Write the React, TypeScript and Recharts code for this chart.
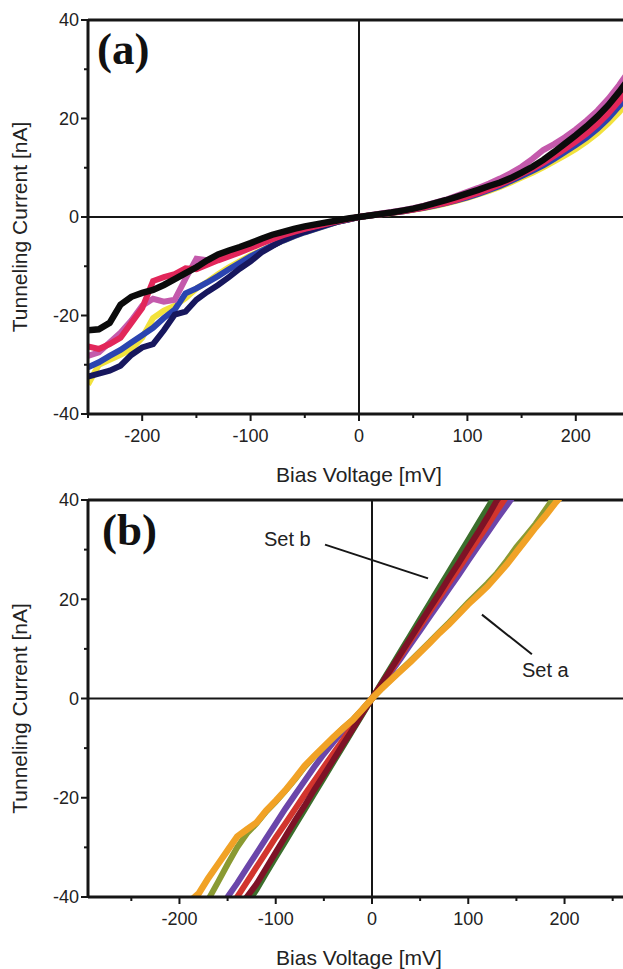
import React from "react";
import { LineChart, Line, XAxis, YAxis, ReferenceLine, ReferenceDot } from "recharts";

const FONT = "'Liberation Sans', Arial, Helvetica, sans-serif";
const SERIF = "'Liberation Serif', 'Times New Roman', serif";
const INK = "#161616";

// ---- panel (a): I-V curves, bias -250..250 mV in 10 mV steps
const voltsA = [
  -250, -240, -230, -220, -210, -200, -190, -180, -170, -160, -150, -140, -130, -120, -110, -100, -90, -80, -70, -60, -50,
  -40, -30, -20, -10, 0, 10, 20, 30, 40, 50, 60, 70, 80, 90, 100, 110, 120, 130, 140, 150, 160, 170, 180, 190, 200, 210,
  220, 230, 240, 250,
];
const blackA = [
  -23, -22.8, -21.5, -17.8, -16.2, -15.4, -14.8, -13.8, -12.6, -11.4, -10.2, -8.8, -7.6, -6.8, -6.1, -5.3, -4.4, -3.6, -3.0,
  -2.4, -1.9, -1.5, -1.1, -0.7, -0.3, 0, 0.3, 0.6, 0.9, 1.3, 1.7, 2.2, 2.8, 3.4, 4.1, 4.8, 5.5, 6.3, 7.0, 7.9, 9.0, 10.2,
  11.6, 13.2, 14.9, 16.6, 18.4, 20.4, 22.7, 25.4, 28.4,
];
const magentaA = [
  -28.2, -27.5, -25.5, -23.5, -21, -18, -16.6, -17.2, -16.8, -12.5, -8.5, -8.8, -8.4, -7.6, -6.7, -5.8, -4.9, -4.1, -3.4,
  -2.8, -2.3, -1.8, -1.3, -0.8, -0.4, 0, 0.35, 0.7, 1.0, 1.4, 1.8, 2.3, 2.9, 3.5, 4.3, 5.1, 5.9, 6.8, 7.8, 8.9, 10.2, 11.8,
  13.6, 14.8, 16.2, 17.8, 19.6, 21.6, 24.0, 26.8, 30.0,
];
const redA = [
  -26.3, -26.8, -25.8, -24.5, -21.5, -18.5, -13.0, -12.2, -11.6, -10.4, -10.6, -9.7, -8.8, -8.0, -7.2, -6.3, -5.4, -4.5,
  -3.7, -3.0, -2.4, -1.9, -1.4, -0.9, -0.4, 0, 0.3, 0.55, 0.85, 1.15, 1.5, 1.9, 2.4, 2.9, 3.5, 4.2, 4.9, 5.7, 6.6, 7.6, 8.7,
  9.8, 11.0, 12.4, 13.8, 15.3, 16.9, 18.8, 21.0, 23.6, 26.6,
];
const yellowA = [
  -34.0, -30.0, -29.0, -28.0, -26.8, -24.5, -20.5, -19.0, -18.0, -16.5, -14.5, -13.2, -11.6, -10.2, -9.0, -7.8, -6.8, -5.8,
  -4.8, -3.9, -3.1, -2.4, -1.7, -1.0, -0.5, 0, 0.3, 0.55, 0.8, 1.1, 1.45, 1.8, 2.2, 2.7, 3.3, 3.9, 4.6, 5.3, 6.1, 7.0, 8.0,
  9.0, 10.1, 11.3, 12.5, 13.8, 15.3, 17.0, 19.0, 21.3, 23.8,
];
const blueA = [
  -30.5, -29.5, -28.2, -27.0, -25.5, -24.0, -22.5, -20.5, -18.8, -15.5, -14.5, -13.3, -12.0, -10.6, -9.3, -8.0, -6.9, -5.8,
  -4.8, -3.9, -3.1, -2.4, -1.7, -1.0, -0.5, 0, 0.3, 0.55, 0.85, 1.1, 1.5, 1.85, 2.3, 2.8, 3.4, 4.0, 4.7, 5.5, 6.3, 7.3, 8.3,
  9.4, 10.5, 11.8, 13.2, 14.6, 16.1, 17.9, 20.0, 22.5, 25.3,
];
const navyA = [
  -32.4, -31.8, -31.2, -30.2, -28.0, -26.5, -25.8, -23.0, -19.8, -19.2, -16.8, -15.2, -13.8, -12.2, -10.5, -9.0, -7.2, -5.9,
  -4.7, -3.8, -3.0, -2.3, -1.6, -1.0, -0.5, 0, 0.3, 0.6, 0.9, 1.2, 1.55, 2.0, 2.6, 3.2, 3.9, 4.6, 5.3, 6.1, 6.9, 7.8, 8.8,
  10.0, 11.3, 12.8, 14.4, 16.1, 17.9, 19.9, 22.2, 24.9, 28.0,
];

// ---- panel (b): two sets, bias -190..200 mV in 10 mV steps
const voltsB = [
  -190, -180, -170, -160, -150, -140, -130, -120, -110, -100, -90, -80, -70, -60, -50, -40, -30, -20, -10, 0, 10, 20, 30, 40,
  50, 60, 70, 80, 90, 100, 110, 120, 130, 140, 150, 160, 170, 180, 190, 200,
];
const _ = null;
const orangeB = [
  -41, -39.3, -36.2, -33.4, -30.6, -27.8, -26.4, -25.0, -22.6, -20.6, -18.5, -16.1, -13.6, -11.6, -9.7, -7.8, -6.0, -4.3,
  -2.2, 0, 2.0, 3.8, 5.6, 7.4, 9.3, 11.2, 13.2, 15.0, 17.0, 19.0, 20.8, 22.6, 24.8, 27.0, 29.5, 32.0, 34.5, 36.8, 39.3, 41.5,
];
const oliveB = [
  _, _, -40.5, -37, -33.4, -30, -27.2, -25.2, -22.8, -20.8, -18.6, -16.3, -13.8, -11.7, -9.8, -7.9, -6.0, -4.3, -2.2, 0, 2.0,
  3.9, 5.7, 7.6, 9.5, 11.4, 13.4, 15.3, 17.3, 19.4, 21.3, 23.2, 25.3, 27.8, 30.5, 32.8, 35.2, 38.0, 40.8, _,
];
const maroonB = [
  _, _, _, _, _, -43, -40, -37.4, -34.2, -31.0, -27.8, -24.6, -21.6, -18.4, -15.4, -12.3, -9.2, -6.2, -3.0, 0, 3.0, 6.0, 9.1,
  12.1, 15.2, 18.2, 21.2, 24.3, 27.3, 30.4, 33.4, 36.6, 40.0, 43, _, _, _, _, _, _,
];
const purpleB = [
  _, _, _, -42.5, -40, -37.2, -34.2, -31.2, -28.2, -25.2, -22.2, -19.4, -16.6, -13.8, -11.2, -8.8, -6.5, -4.4, -2.2, 0, 2.7,
  5.4, 8.1, 10.9, 13.7, 16.5, 19.3, 22.1, 24.9, 27.8, 30.6, 33.4, 36.2, 38.9, 41.6, _, _, _, _, _,
];
const redB = [
  _, _, _, _, -43, -40, -37, -34, -31, -28, -25.2, -22.3, -19.4, -16.6, -13.8, -11.0, -8.3, -5.5, -2.8, 0, 2.9, 5.8, 8.7,
  11.7, 14.6, 17.5, 20.4, 23.3, 26.2, 29.1, 32.0, 34.9, 37.9, 40.8, _, _, _, _, _, _,
];
const greenB = [
  _, _, _, _, _, _, -41.5, -38.5, -35.2, -32.0, -28.8, -25.6, -22.4, -19.2, -16.0, -12.8, -9.6, -6.4, -3.2, 0, 3.2, 6.4, 9.6,
  12.8, 16.0, 19.2, 22.4, 25.6, 28.8, 32.0, 35.2, 38.4, 41.6, _, _, _, _, _, _, _,
];

const yTicks = [-40, -30, -20, -10, 0, 10, 20, 30, 40];
const yMajor = [-40, -20, 0, 20, 40];
const xTicks = [-250, -200, -150, -100, -50, 0, 50, 100, 150, 200, 250];
const xMajor = [-200, -100, 0, 100, 200];

const rowsA = voltsA.map((v, k) => ({
  v,
  black: blackA[k],
  magenta: magentaA[k],
  red: redA[k],
  yellow: yellowA[k],
  blue: blueA[k],
  navy: navyA[k],
}));

const rowsB = voltsB.map((v, k) => ({
  v,
  orange: orangeB[k],
  olive: oliveB[k],
  maroon: maroonB[k],
  purple: purpleB[k],
  red: redB[k],
  green: greenB[k],
}));

const XTick = (props: any) => {
  const { x, y, payload } = props;
  const major = xMajor.includes(payload.value);
  return (
    <g>
      <line x1={x} y1={y} x2={x} y2={y + (major ? 7 : 4)} stroke={INK} strokeWidth={2} />
      {major && (
        <text x={x} y={y + 22} dy="0.35em" textAnchor="middle" fontSize={18} fontFamily={FONT} fill="#222">
          {payload.value}
        </text>
      )}
    </g>
  );
};

const YTick = (props: any) => {
  const { x, y, payload } = props;
  const major = yMajor.includes(payload.value);
  return (
    <g>
      <line x1={x} y1={y} x2={x - (major ? 7 : 4)} y2={y} stroke={INK} strokeWidth={2} />
      {major && (
        <text x={x - 9} y={y} dy="0.35em" textAnchor="end" fontSize={18} fontFamily={FONT} fill="#222">
          {payload.value}
        </text>
      )}
    </g>
  );
};

const xTitle = (props: any) => {
  const vb = props.viewBox;
  return (
    <text x={vb.x + 271} y={vb.y + 61} dy="0.35em" textAnchor="middle" fontSize={21} fontFamily={FONT} fill="#222">
      Bias Voltage [mV]
    </text>
  );
};

const yTitle = (props: any) => {
  const vb = props.viewBox;
  const cx = 20;
  const cy = vb.y + vb.height / 2 + 10;
  return (
    <text
      x={cx}
      y={cy}
      dy="0.35em"
      textAnchor="middle"
      fontSize={21}
      fontFamily={FONT}
      fill="#222"
      transform={`rotate(-90, ${cx}, ${cy})`}
    >
      Tunneling Current [nA]
    </text>
  );
};

const note = (text: string) => (p: any) => (
  <text x={p.cx} y={p.cy} dy="0.35em" textAnchor="middle" fontSize={20} fontFamily={FONT} fill="#222">
    {text}
  </text>
);

export default function App() {
  const line = (key: string, color: string, w = 6) => (
    <Line
      key={key}
      dataKey={key}
      stroke={color}
      strokeWidth={w}
      dot={false}
      type="linear"
      isAnimationActive={false}
      connectNulls={false}
    />
  );

  return (
    <div
      style={{
        position: "absolute",
        left: 0,
        top: 0,
        width: 623,
        height: 969,
        overflow: "hidden",
        background: "#fff",
      }}
    >
      <div style={{ position: "absolute", left: 0, top: 480 }}>
        <LineChart width={670} height={489} data={rowsB} margin={{ top: 20, right: 14, bottom: 0, left: 0 }}>
          <XAxis
            dataKey="v"
            type="number"
            domain={[-295, 295]}
            ticks={xTicks}
            interval={0}
            allowDataOverflow
            height={72}
            tickSize={0}
            tickMargin={0}
            tickLine={false}
            tick={XTick}
            axisLine={{ stroke: INK, strokeWidth: 3 }}
            label={xTitle}
          />
          <YAxis
            type="number"
            domain={[-40, 40]}
            ticks={yTicks}
            interval={0}
            allowDataOverflow
            width={88}
            tickSize={0}
            tickMargin={0}
            tickLine={false}
            tick={YTick}
            axisLine={{ stroke: INK, strokeWidth: 3 }}
            label={yTitle}
          />
          <ReferenceLine y={40} stroke={INK} strokeWidth={3} />
          <ReferenceLine y={0} stroke={INK} strokeWidth={2} />
          <ReferenceLine x={0} stroke={INK} strokeWidth={2} />
          <ReferenceLine
            segment={[
              { x: -48.8, y: 31.0 },
              { x: 58.2, y: 24.2 },
            ]}
            stroke={INK}
            strokeWidth={2}
          />
          <ReferenceLine
            segment={[
              { x: 114.2, y: 16.9 },
              { x: 166.1, y: 8.9 },
            ]}
            stroke={INK}
            strokeWidth={2}
          />
          <ReferenceDot x={-88} y={32.1} r={0} shape={note("Set b")} />
          <ReferenceDot x={180} y={5.8} r={0} shape={note("Set a")} />
          {line("green", "#3b6e2c")}
          {line("purple", "#6b46aa")}
          {line("red", "#d2352d")}
          {line("maroon", "#7e1226")}
          {line("olive", "#8a9a32")}
          {line("orange", "#f1a226", 6.5)}
        </LineChart>
      </div>

      <div style={{ position: "absolute", left: 0, top: 0 }}>
        <LineChart width={640} height={500} data={rowsA} margin={{ top: 20, right: 10, bottom: 0, left: 0 }}>
          <XAxis
            dataKey="v"
            type="number"
            domain={[-250, 250]}
            ticks={xTicks}
            interval={0}
            allowDataOverflow
            height={86}
            tickSize={0}
            tickMargin={0}
            tickLine={false}
            tick={XTick}
            axisLine={{ stroke: INK, strokeWidth: 3 }}
            label={xTitle}
          />
          <YAxis
            type="number"
            domain={[-40, 40]}
            ticks={yTicks}
            interval={0}
            allowDataOverflow
            width={88}
            tickSize={0}
            tickMargin={0}
            tickLine={false}
            tick={YTick}
            axisLine={{ stroke: INK, strokeWidth: 3 }}
            label={yTitle}
          />
          <ReferenceLine y={40} stroke={INK} strokeWidth={3} />
          <ReferenceLine x={250} stroke={INK} strokeWidth={3} />
          <ReferenceLine y={0} stroke={INK} strokeWidth={2} />
          <ReferenceLine x={0} stroke={INK} strokeWidth={2} />
          {line("yellow", "#f2e23c")}
          {line("blue", "#2b44b0")}
          {line("navy", "#17175e")}
          {line("magenta", "#c45aac")}
          {line("red", "#e2265a")}
          {line("black", "#0b0b0b", 6.5)}
        </LineChart>
      </div>

      <svg width={623} height={969} style={{ position: "absolute", left: 0, top: 0, pointerEvents: "none" }}>
        <text x={97} y={64} fontFamily={SERIF} fontWeight="bold" fontSize={45} fill="#111">
          (a)
        </text>
        <text x={102} y={545} fontFamily={SERIF} fontWeight="bold" fontSize={45} fill="#111">
          (b)
        </text>
      </svg>
    </div>
  );
}
